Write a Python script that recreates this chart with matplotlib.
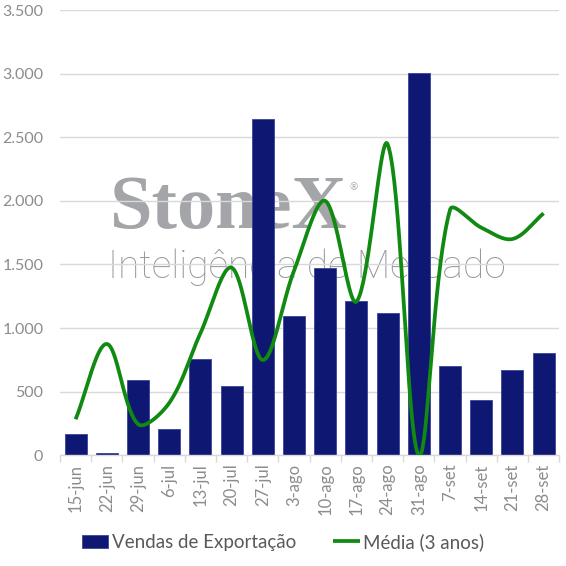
import numpy as np
import matplotlib
matplotlib.use("Agg")
import matplotlib.pyplot as plt
from matplotlib.ticker import FuncFormatter, FixedLocator

categories = ["15-jun", "22-jun", "29-jun", "6-jul", "13-jul", "20-jul", "27-jul",
              "3-ago", "10-ago", "17-ago", "24-ago", "31-ago", "7-set", "14-set",
              "21-set", "28-set"]
vendas = [165, 15, 590, 204, 757, 542, 2641, 1095, 1470, 1215, 1119, 3005,
          702, 432, 668, 804]
media = [283, 875, 245, 411, 959, 1475, 749, 1450, 2000, 1208, 2445, 0,
         1930, 1790, 1700, 1902]

plt.rcParams['font.family'] = ['Lato', 'DejaVu Sans']

fig = plt.figure(figsize=(5.66, 5.66), dpi=100)
ax_rect = [0.106, 0.1956, 0.882, 0.7867]
ax = fig.add_axes(ax_rect)

x = np.arange(len(categories))
bars = ax.bar(x, vendas, width=0.7, color='#0e1772', edgecolor='#3a4499',
              linewidth=0.6, zorder=2, label='Vendas de Exportação')

# Smoothed line (Excel-like Bezier, control lengths weighted by segment length in pixels)
n = len(x)
ymax = 3500
sx = ax_rect[2] * 566 / n
sy = ax_rect[3] * 566 / ymax
P = np.column_stack([x * sx, np.array(media, float) * sy])
k = 1.0 / 3.0
cin = np.zeros_like(P)
cout = np.zeros_like(P)
for i in range(n):
    pm = P[max(i - 1, 0)]
    pp = P[min(i + 1, n - 1)]
    d = pp - pm
    l1 = np.linalg.norm(P[i] - pm)
    l2 = np.linalg.norm(pp - P[i])
    tot = l1 + l2 if (l1 + l2) > 0 else 1
    cin[i] = P[i] - d * k * l1 / tot
    cout[i] = P[i] + d * k * l2 / tot
t = np.linspace(0, 1, 40)[:, None]
pts = []
for i in range(n - 1):
    p1, c1, c2, p2 = P[i], cout[i], cin[i + 1], P[i + 1]
    b = (1 - t) ** 3 * p1 + 3 * (1 - t) ** 2 * t * c1 + 3 * (1 - t) * t ** 2 * c2 + t ** 3 * p2
    pts.append(b)
pts = np.vstack(pts)
line, = ax.plot(pts[:, 0] / sx, pts[:, 1] / sy, color='#108a10', linewidth=2.7, zorder=3,
                solid_capstyle='butt', label='Média (3 anos)')

ax.set_xlim(-0.5, n - 0.5)
ax.set_ylim(0, ymax)
ax.set_yticks(np.arange(0, ymax + 1, 500))
ax.yaxis.set_major_formatter(FuncFormatter(lambda v, p: f"{int(v):,}".replace(",", ".")))
ax.grid(axis='y', color='#d9d9d9', linewidth=1.0, zorder=0)
ax.set_axisbelow(True)

ax.set_xticks(x)
ax.set_xticklabels(categories, rotation=90)
ax.xaxis.set_minor_locator(FixedLocator(np.arange(-0.5, n, 1)))
ax.tick_params(axis='x', which='major', length=0, pad=6, labelsize=12, labelcolor='#8c8c8c')
ax.tick_params(axis='x', which='minor', length=5, color='#d9d9d9', width=1)
ax.tick_params(axis='y', length=0, pad=12, labelsize=11.5, labelcolor='#8c8c8c')

for s in ['top', 'right', 'left']:
    ax.spines[s].set_visible(False)
ax.spines['bottom'].set_color('#d9d9d9')
ax.spines['bottom'].set_linewidth(1.0)

# Watermark
fig.text(110 / 566, 1 - 228 / 566, "StoneX", family=['Liberation Serif'],
         fontweight='bold', fontsize=55, color='#a3a5a9',
         ha='left', va='baseline', zorder=0)
fig.text(350 / 566, 1 - 190 / 566, "®", fontsize=7, color='#a3a5a9',
         ha='left', va='baseline', zorder=0)
fig.text(108 / 566, 1 - 278 / 566, "Inteligência de Mercado", family=['Roboto', 'Lato'],
         fontweight='light', fontsize=28, color='#97999d', ha='left', va='baseline', zorder=0)
ax.set_zorder(1)
ax.patch.set_alpha(0)

leg = fig.legend(handles=[bars, line], loc='center', bbox_to_anchor=(0.5, 1 - 542 / 566), ncol=2,
                 frameon=False, fontsize=13.5, handlelength=1.4, handletextpad=0.2,
                 columnspacing=2.0, labelcolor='#595959')

fig.savefig("out.png", dpi=100)
